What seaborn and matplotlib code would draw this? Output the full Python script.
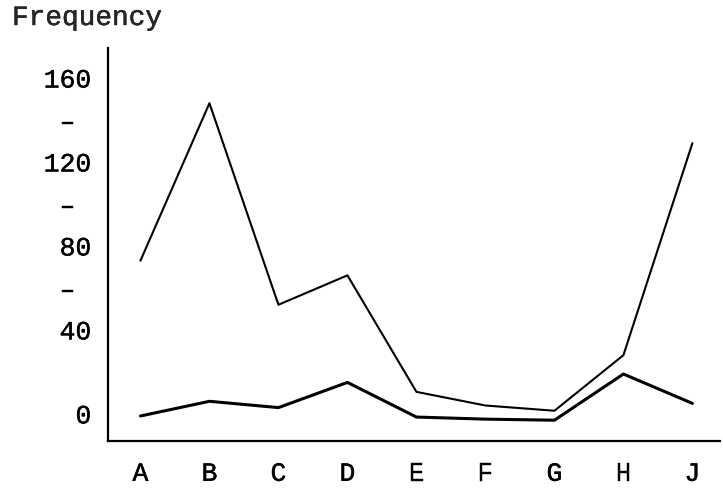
import matplotlib
matplotlib.use("Agg")
import matplotlib.pyplot as plt
import matplotlib.patheffects as pe
import seaborn as sns
import pandas as pd

categories = ["A", "B", "C", "D", "E", "F", "G", "H", "J"]
upper_values = [73, 148, 52, 66, 10.5, 4, 1.5, 28, 129]
lower_values = [-1, 6, 3, 15, -1.5, -2.5, -3, 19, 5]

y_ticks = [0, 40, 60, 80, 100, 120, 140, 160]
y_labels = ["0", "40", "– ", "80", "– ", "120", "– ", "160"]


def build_frame():
    rows = []
    for name, vals in [("upper", upper_values), ("lower", lower_values)]:
        for cat, v in zip(categories, vals):
            rows.append({"cat": cat, "freq": v, "series": name})
    return pd.DataFrame(rows)


def main():
    sns.set_style("white")
    plt.rcParams["font.family"] = ["Liberation Mono", "DejaVu Sans Mono"]

    df = build_frame()
    fig = plt.figure(figsize=(7.23, 4.92), dpi=100)
    ax = fig.add_axes([0.1494, 0.1037, 0.8465, 0.7987])

    sns.lineplot(data=df[df.series == "upper"], x="cat", y="freq", color="black",
                 lw=1.5, ax=ax, sort=False)
    sns.lineplot(data=df[df.series == "lower"], x="cat", y="freq", color="black",
                 lw=2.2, ax=ax, sort=False)

    ax.set_xlim(-0.47, 8.4)
    ax.set_ylim(-12.9, 174.3)
    ax.set_xticks(range(len(categories)))
    ax.set_xticklabels(categories)
    ax.set_yticks(y_ticks)
    ax.set_yticklabels(y_labels)
    ax.tick_params(axis="both", length=0, labelsize=19, colors="black")
    ax.tick_params(axis="y", pad=12)
    ax.tick_params(axis="x", pad=15)
    ax.set_xlabel("")
    ax.set_ylabel("")

    # thicken the thin mono glyphs a little, like typewriter ink
    ink = [pe.withStroke(linewidth=0.3, foreground="black")]
    for lab in ax.get_xticklabels() + ax.get_yticklabels():
        lab.set_path_effects(ink)

    sns.despine(ax=ax)
    for side in ["left", "bottom"]:
        ax.spines[side].set_color("black")
        ax.spines[side].set_linewidth(1.6)

    fig.text(12 / 723, 1 - 25 / 492, "Frequency", fontsize=20, va="baseline", ha="left",
             path_effects=ink)

    fig.savefig("out.png", dpi=100)
    plt.close(fig)


if __name__ == "__main__":
    main()
